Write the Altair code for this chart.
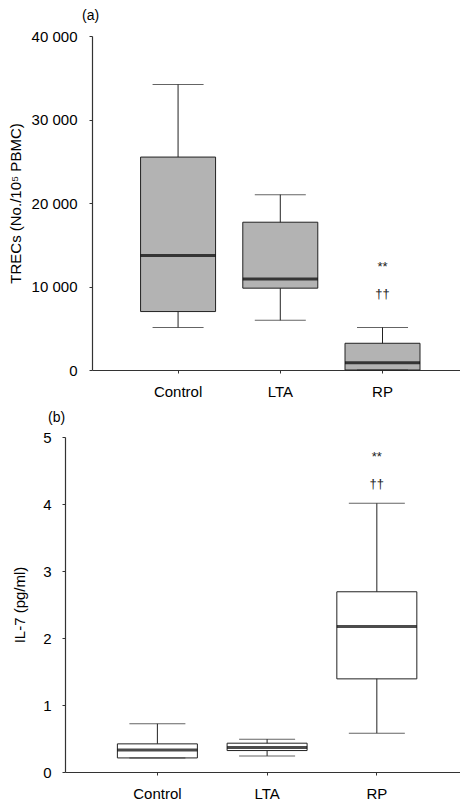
import altair as alt
import pandas as pd

groups = ["Control", "LTA", "RP"]

# Panel (a): TRECs (No./10^5 PBMC)
trec_wlo = [5100, 5950, 0]
trec_q1 = [7000, 9800, 0]
trec_med = [13700, 10900, 880]
trec_q3 = [25500, 17700, 3200]
trec_whi = [34200, 21000, 5100]
trec_marks = ["**", "††"]
trec_mark_y = [12300, 9100]

# Panel (b): IL-7 (pg/ml)
il7_wlo = [0.21, 0.24, 0.58]
il7_q1 = [0.21, 0.32, 1.39]
il7_med = [0.33, 0.365, 2.17]
il7_q3 = [0.42, 0.43, 2.69]
il7_whi = [0.72, 0.49, 4.01]
il7_marks = ["**", "††"]
il7_mark_y = [4.70, 4.30]

FONT = "Liberation Sans"
W = 395


def panel(label, ytitle, wlo, q1, med, q3, whi, marks, mark_y, dmax, tickvals,
          fill, height, inset, box_w, cap_w, label_pad, title_pad, title_dx, title_off, fmt_expr):
    df = pd.DataFrame({"g": groups, "wlo": wlo, "q1": q1, "med": med, "q3": q3, "whi": whi})
    ann = pd.DataFrame({"g": ["RP"] * len(marks), "y": mark_y, "t": marks})
    xs = alt.Scale(domain=groups, paddingInner=0, paddingOuter=0.3, align=0.57, range=[inset, W])
    ys = alt.Scale(domain=[0, dmax], nice=False, zero=True)
    x = alt.X("g:N", scale=xs, sort=groups, title=None,
              axis=alt.Axis(labelAngle=0, labelFontSize=15, labelFont=FONT, labelColor="black",
                            labelPadding=11, tickSize=3, tickColor="#333", domainColor="#333",
                            domainWidth=1.2, grid=False))
    yaxis = alt.Axis(values=tickvals, labelFontSize=15, labelFont=FONT, labelColor="black",
                     labelPadding=label_pad, tickSize=3, tickColor="#333", domainColor="#333",
                     domainWidth=1.2, grid=False, title=ytitle, titleFont=FONT, titleFontSize=15,
                     titleFontWeight="normal", titleColor="black", titlePadding=title_pad,
                     labelExpr=fmt_expr, offset=-inset)
    base = alt.Chart(df)
    whisk = base.mark_rule(color="#222", strokeWidth=1).encode(
        x=x, y=alt.Y("wlo:Q", scale=ys, axis=yaxis), y2="whi:Q")
    box = base.mark_bar(size=box_w, fill=fill, stroke="#222", strokeWidth=1).encode(
        x=x, y=alt.Y("q1:Q", scale=ys), y2="q3:Q")
    median = base.mark_tick(color="black", size=box_w, thickness=3).encode(
        x=x, y=alt.Y("med:Q", scale=ys))
    cap_hi = base.mark_tick(color="#222", size=cap_w, thickness=1).encode(
        x=x, y=alt.Y("whi:Q", scale=ys))
    cap_lo = base.mark_tick(color="#222", size=cap_w, thickness=1).encode(
        x=x, y=alt.Y("wlo:Q", scale=ys))
    txt = alt.Chart(ann).mark_text(fontSize=13, font=FONT, color="#222", baseline="middle").encode(
        x=x, y=alt.Y("y:Q", scale=ys), text="t:N")
    return alt.layer(whisk, box, median, cap_hi, cap_lo, txt).properties(
        width=W, height=height,
        view=alt.ViewBackground(stroke="transparent", strokeWidth=0),
        title=alt.TitleParams(label, anchor="start", frame="group", dx=inset + title_dx, fontSize=14,
                              font=FONT, fontWeight="normal", color="black", offset=title_off))


fmt_a = "replace(format(datum.value, ','), ',', ' ')"
fmt_b = "format(datum.value, 'd')"

a = panel("(a)", "TRECs (No./10⁵ PBMC)", trec_wlo, trec_q1, trec_med, trec_q3, trec_whi,
          trec_marks, trec_mark_y, 40000, [0, 10000, 20000, 30000, 40000],
          "#b3b3b3", 334, 27, 75, 51, 12, 8, -10, 6, fmt_a)
b = panel("(b)", "IL-7 (pg/ml)", il7_wlo, il7_q1, il7_med, il7_q3, il7_whi,
          il7_marks, il7_mark_y, 5, [0, 1, 2, 3, 4, 5],
          "white", 335, 0, 80, 56, 11, 15, -17, 5, fmt_b)

chart = alt.vconcat(a, b, spacing=12).resolve_scale(
    x="independent", y="independent"
).properties(
    padding={"left": 0, "top": 1, "right": 0, "bottom": 0}
).configure_view(stroke="transparent", strokeWidth=0).configure(background="white")

chart.save("out.html", embed_options={"renderer": "svg", "actions": False})
